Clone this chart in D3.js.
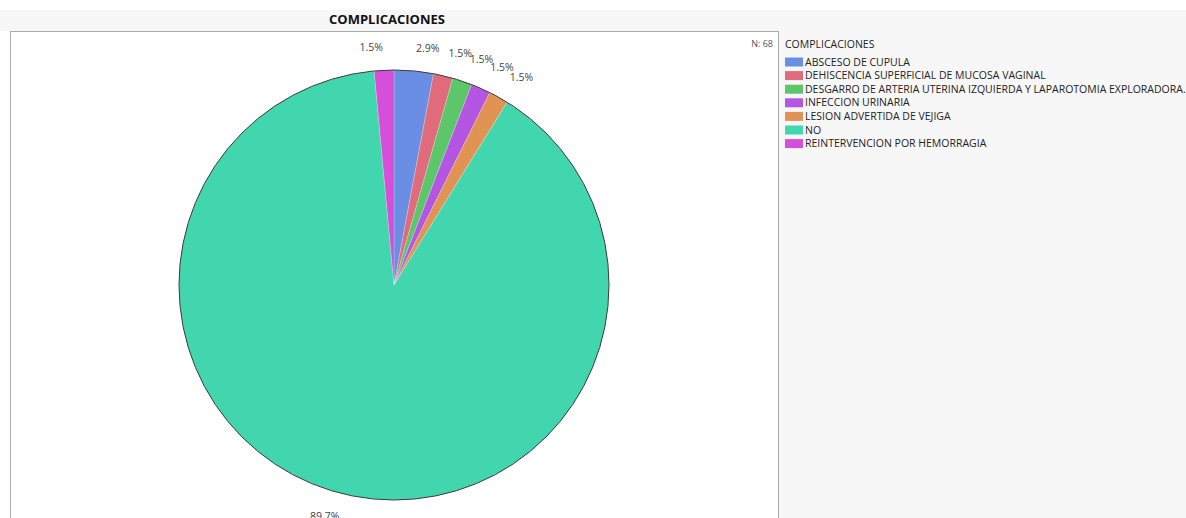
<!DOCTYPE html>
<html><head><meta charset="utf-8">
<script src="https://cdn.jsdelivr.net/npm/d3@7"></script>
<style>body{margin:0;background:#fff;}svg{display:block;}</style>
</head><body>
<svg id="c" width="1186" height="518"></svg>
<script>
const categories = ["ABSCESO DE CUPULA","DEHISCENCIA SUPERFICIAL DE MUCOSA VAGINAL","DESGARRO DE ARTERIA UTERINA IZQUIERDA Y LAPAROTOMIA EXPLORADORA.","INFECCION URINARIA","LESION ADVERTIDA DE VEJIGA","NO","REINTERVENCION POR HEMORRAGIA"];
const counts = [2,1,1,1,1,61,1];
const colors = ["#6a8ee3","#e06b7b","#5cc66b","#b556e3","#e09352","#41d6ae","#d54fda"];
const title = "COMPLICACIONES";
const nTotal = 68;

const svg = d3.select("#c");
const font = "'Open Sans', 'Noto Sans', sans-serif";
svg.append("rect").attr("x",0).attr("y",10).attr("width",1186).attr("height",508).attr("fill","#f7f7f7");
svg.append("rect").attr("x",0).attr("y",31).attr("width",10).attr("height",487).attr("fill","#fff");
svg.append("rect").attr("x",10.5).attr("y",31.5).attr("width",768).attr("height",500).attr("fill","#fff").attr("stroke","#ababab");

svg.append("text").attr("x",387).attr("y",23.5).attr("text-anchor","middle")
  .attr("font-family",font).attr("font-weight","bold").attr("font-size",13).attr("fill","#111").text(title);
svg.append("text").attr("x",773).attr("y",47).attr("text-anchor","end")
  .attr("font-family",font).attr("font-size",9).attr("fill","#555").text("N: "+nTotal);

const cx=394, cy=285, R=215;
const total = d3.sum(counts);
const pie = d3.pie().sort(null).value(d=>d)(counts);
const arc = d3.arc().innerRadius(0).outerRadius(R);
const g = svg.append("g").attr("transform",`translate(${cx},${cy})`);
g.selectAll("path.s").data(pie).join("path").attr("class","s")
  .attr("d",arc).attr("fill",(d,i)=>colors[i]).attr("stroke","rgba(255,255,255,0.35)").attr("stroke-width",0.6);
g.append("circle").attr("r",R).attr("fill","none").attr("stroke","#3a3a3a").attr("stroke-width",1);

const fmt = d3.format(".1%");
const lr = 238;
g.selectAll("text.l").data(pie).join("text").attr("class","l")
  .each(function(d){
    const a=(d.startAngle+d.endAngle)/2;
    const x=lr*Math.sin(a), y=-lr*Math.cos(a);
    d3.select(this).attr("x",x).attr("y",y).attr("dy","0.35em")
      .attr("text-anchor", Math.sin(a)>=0?"start":"end");
  })
  .attr("font-family",font).attr("font-size",10.5).attr("fill","#444")
  .text(d=>fmt(d.value/total));

const lg = svg.append("g").attr("transform","translate(785,0)");
lg.append("text").attr("x",0).attr("y",48).attr("font-family",font).attr("font-size",10.5).attr("fill","#222").text(title);
const rows = lg.selectAll("g.r").data(categories).join("g").attr("class","r")
  .attr("transform",(d,i)=>`translate(0,${62+i*13.6})`);
rows.append("rect").attr("x",0).attr("y",-4.5).attr("width",18).attr("height",9).attr("fill",(d,i)=>colors[i]);
rows.append("text").attr("x",20).attr("y",0).attr("dy","0.35em").attr("font-family",font).attr("font-size",10.5).attr("fill","#222").text(d=>d);
</script>
</body></html>
